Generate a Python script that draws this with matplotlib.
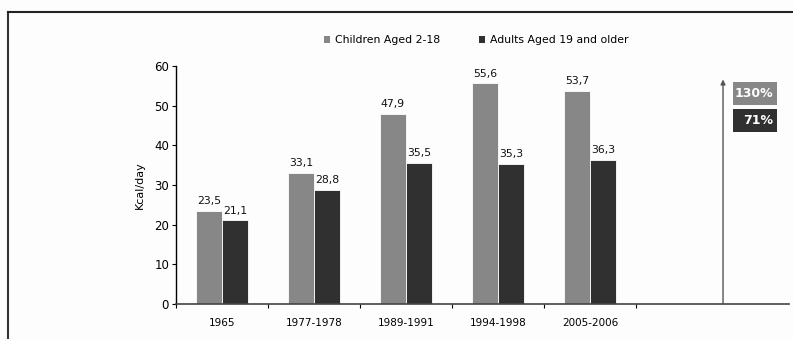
import matplotlib.pyplot as plt
from matplotlib.patches import Patch, Rectangle
from matplotlib.lines import Line2D

# Energy intake from sugar-sweetened drinks, by survey period
periods = ["1965", "1977-1978", "1989-1991", "1994-1998", "2005-2006"]
children = [23.5, 33.1, 47.9, 55.6, 53.7]
adults = [21.1, 28.8, 35.5, 35.3, 36.3]
series_names = ["Children Aged 2-18", "Adults Aged 19 and older"]
change_labels = ["130%", "71%"]

gray = "#878787"
dark = "#303030"
narrow = ["Liberation Sans Narrow", "DejaVu Sans"]

fig = plt.figure(figsize=(7.93, 3.39), dpi=100)
fig.patch.set_facecolor("#fdfdfd")
W, H = 793, 339
ax = fig.add_axes([176 / W, (H - 304) / H, (789 - 176) / W, (304 - 66) / H])
ax.set_facecolor("#fdfdfd")

x = range(len(periods))
off, bw = 0.142, 0.275
b1 = ax.bar([i - off for i in x], children, bw, color=gray, edgecolor="white", linewidth=0.6)
b2 = ax.bar([i + off for i in x], adults, bw, color=dark, edgecolor="white", linewidth=0.6)

for bars, vals in ((b1, children), (b2, adults)):
    for r, v in zip(bars, vals):
        ax.text(r.get_x() + r.get_width() / 2, v + 1.2, f"{v:.1f}".replace(".", ","),
                ha="center", va="bottom", fontsize=7.8, family=narrow, color="#111111")

ax.set_xlim(-0.5, 6.163)
ax.set_ylim(0, 60)
ax.set_yticks(range(0, 61, 10))
ax.tick_params(axis="y", labelsize=8.5, length=3, width=0.8, pad=2)
ax.set_xticks([i + 0.5 for i in range(-1, 5)], minor=False)
ax.set_xticklabels([])
ax.set_xticks(list(x), minor=True)
ax.set_xticklabels(periods, minor=True)
ax.tick_params(axis="x", which="major", length=3, width=0.8, direction="out")
ax.tick_params(axis="x", which="minor", length=0, labelsize=7.5, pad=10)
for s in ("top", "right"):
    ax.spines[s].set_visible(False)
ax.spines["left"].set_linewidth(1.0)
ax.spines["bottom"].set_linewidth(1.2)
ax.spines["bottom"].set_color("#444444")
ax.set_ylabel("Kcal/day", fontsize=8, family=narrow, labelpad=7)

# growth arrow and percentage boxes on the right
ax.annotate("", xy=(5.446, 56.6), xytext=(5.446, 0),
            arrowprops=dict(arrowstyle="-|>", color="#555555", lw=1.0,
                            mutation_scale=7, shrinkA=0, shrinkB=0))
boxes = [(50.2, 5.8, gray), (43.4, 5.8, dark)]
for (y0, h, c), lab in zip(boxes, change_labels):
    ax.add_patch(Rectangle((5.55, y0), 0.48, h, facecolor=c, edgecolor="none", clip_on=False))
    ax.text(5.99, y0 + h / 2, lab, ha="right", va="center", color="white",
            fontsize=9, fontweight="bold", family=narrow)

handles = [Patch(facecolor=gray), Patch(facecolor=dark)]
fig.legend(handles, series_names, loc="center", bbox_to_anchor=(476 / W, 1 - 40 / H),
           ncol=2, frameon=False, handlelength=0.6, handleheight=0.6, handletextpad=0.4,
           columnspacing=3.6, prop=dict(family=narrow, size=7.8))

# outer frame
fig.add_artist(Line2D([8 / W, 8 / W], [0, 1 - 12 / H], color="#333333", lw=1.5))
fig.add_artist(Line2D([8 / W, 1], [1 - 12 / H, 1 - 12 / H], color="#222222", lw=1.5))

fig.savefig("out.png", dpi=100, facecolor=fig.get_facecolor())
